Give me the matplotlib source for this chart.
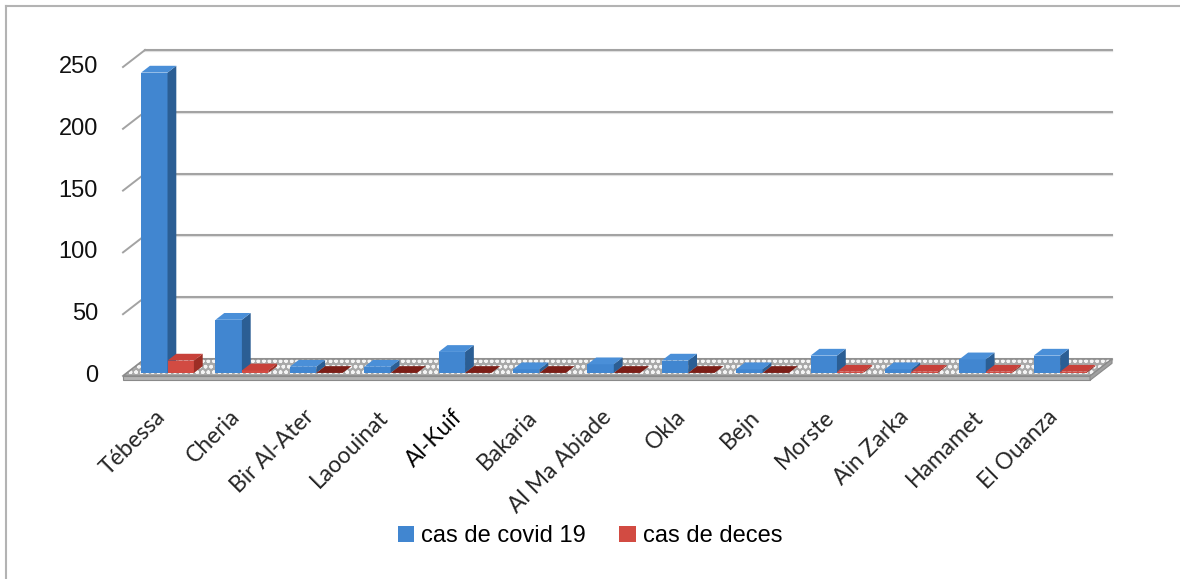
import numpy as np
import matplotlib
matplotlib.use('Agg')
import matplotlib.pyplot as plt
from matplotlib.patches import Patch
from matplotlib.lines import Line2D

communes = ['Tébessa', 'Cheria', 'Bir Al-Ater', 'Laoouinat', 'Al-Kuif', 'Bakaria',
            'Al Ma Abiade', 'Okla', 'Bejn', 'Morste', 'Ain Zarka', 'Hamamet', 'El Ouanza']
covid = [243, 43, 5, 5, 17, 3, 7, 10, 3, 14, 3, 11, 14]
deces = [10, 2, 0, 0, 0, 0, 0, 0, 0, 1, 1, 1, 1]
yticks = [0, 50, 100, 150, 200, 250]

# pseudo 3d geometry (category units / value units)
DX, DY = 0.296, 13.75   # depth of the floor
F0 = 0.18               # bars sit a little behind the front edge
FD = 0.40               # depth of a bar
W = 0.355               # bar width

fig = plt.figure(figsize=(11.8, 5.79), dpi=100)
ax = fig.add_axes([123/1180, (579-376)/579, 967/1180, 309/579])
ax.set_xlim(-0.5, 12.5)
ax.set_ylim(0, 250)
ax.axis('off')

n = len(communes)
x0, x1 = -0.5, n - 0.5

# back wall gridlines + little diagonal stubs on the left
for v in yticks:
    ax.plot([x0 + DX, x1 + DX], [v + DY - 0.8, v + DY - 0.8], color='#e2e2e2', lw=1.6,
            clip_on=False, zorder=1)
    ax.plot([x0 + DX, x1 + DX], [v + DY, v + DY], color='#a3a3a3', lw=1.5,
            clip_on=False, zorder=1)
    ax.plot([x0, x0 + DX], [v, v + DY], color='#a3a3a3', lw=1.4,
            clip_on=False, zorder=1)
    ax.annotate(str(v), (x0, v), xytext=(-25, 0), textcoords='offset pixels',
                ha='right', va='center', fontsize=17, family='Liberation Sans',
                color='#111111', annotation_clip=False)

# floor slab
ax.fill([x0, x1, x1 + DX, x0 + DX], [0, 0, DY, DY], facecolor='#a8a8a8',
        edgecolor='#f4f4f4', hatch='ooo', lw=0, clip_on=False, zorder=2)
ax.fill([x0, x1, x1 + DX, x0 + DX], [0, 0, DY, DY], facecolor='none',
        edgecolor='#8a8a8a', lw=1.0, clip_on=False, zorder=2)
ax.fill([x0, x1, x1, x0], [0, 0, -3.5, -3.5], facecolor='#b4b4b4',
        edgecolor='#8a8a8a', lw=0.8, clip_on=False, zorder=2)
ax.fill([x1, x1 + DX, x1 + DX, x1], [0, DY, DY - 3.5, -3.5], facecolor='#a0a0a0',
        edgecolor='#8a8a8a', lw=0.8, clip_on=False, zorder=2)


def bar3d(xl, v, front, top, side, zero_top):
    ox, oy = F0 * DX, F0 * DY
    bx, by = FD * DX, FD * DY
    xa = xl + ox
    ya = oy
    yb = oy + v
    ax.bar(xa, v, width=W, bottom=ya, align='edge', color=front,
           edgecolor='none', zorder=3, clip_on=False)
    ax.fill([xa + W, xa + W + bx, xa + W + bx, xa + W],
            [ya, ya + by, yb + by, yb], color=side, lw=0, zorder=3, clip_on=False)
    ax.fill([xa, xa + W, xa + W + bx, xa + bx],
            [yb, yb, yb + by, yb + by], color=zero_top if v == 0 else top,
            lw=0, zorder=3, clip_on=False)


for i in range(n):
    xl = i - 0.31
    bar3d(xl, covid[i], '#4186d0', '#4a8fd8', '#2b5e94', '#4186d0')
    bar3d(xl + W, deces[i], '#d24b42', '#c8413a', '#9c2e25', '#7b1e17')

for i, name in enumerate(communes):
    ax.annotate(name, (i, 0), xytext=(9, -30), textcoords='offset pixels',
                rotation=45, ha='right', va='top', fontsize=16.5, family='Lato',
                color='#000000' if name == 'Al-Kuif' else '#262626',
                annotation_clip=False)

handles = [Patch(facecolor='#4186d0', edgecolor='none', label='cas de covid 19'),
           Patch(facecolor='#d24b42', edgecolor='none', label='cas de deces')]
fig.legend(handles=handles, loc='center', bbox_to_anchor=(0.5, 0.074), ncol=2,
           frameon=False, prop={'family': 'Liberation Sans', 'size': 17},
           handlelength=0.7, handleheight=0.7, handletextpad=0.3, columnspacing=1.4)

# chart border (only top and left visible)
fig.add_artist(Line2D([6/1180, 6/1180], [0, 1 - 6/579], transform=fig.transFigure,
                      color='#b3b3b3', lw=1.5))
fig.add_artist(Line2D([6/1180, 1], [1 - 6/579, 1 - 6/579], transform=fig.transFigure,
                      color='#b3b3b3', lw=1.5))

fig.savefig('out.png', dpi=100)
